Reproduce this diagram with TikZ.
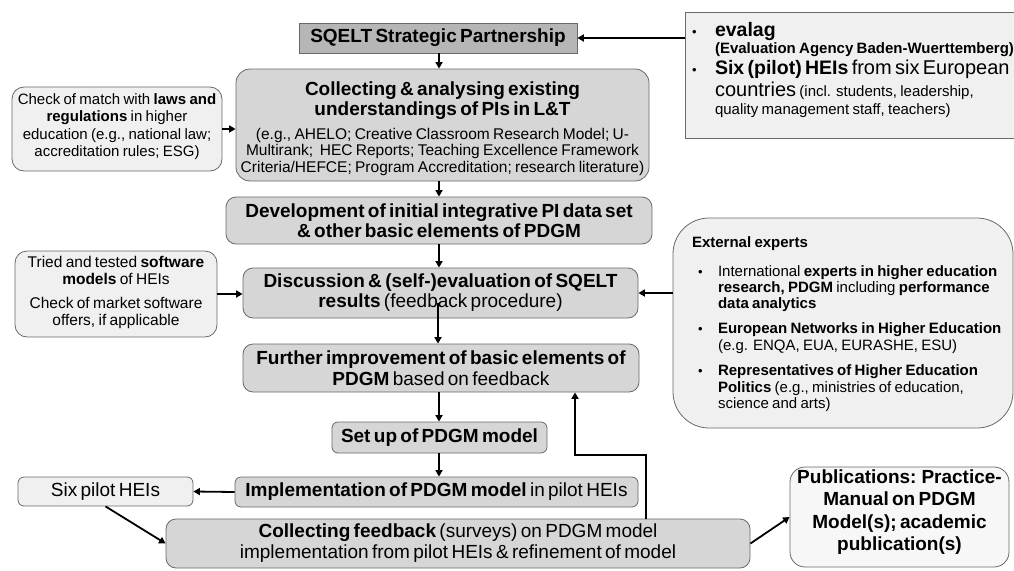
\documentclass[tikz,border=0pt]{standalone}
\usepackage{fontspec}
\setmainfont{Liberation Sans}
\usetikzlibrary{arrows.meta,calc}

\definecolor{fillmain}{RGB}{214,214,214}
\definecolor{filldark}{RGB}{182,182,182}
\definecolor{filllight}{RGB}{240,240,240}
\definecolor{fillpale}{RGB}{247,247,247}
\definecolor{edgegray}{RGB}{105,105,105}

% one centred / left-aligned line of box text: size, distance from previous baseline, content
\newcommand{\bxline}[3]{{\fontsize{#1}{#2}\selectfont\makebox[\linewidth][c]{#3}\par}}
\newcommand{\bxlinel}[3]{{\fontsize{#1}{#2}\selectfont\makebox[\linewidth][l]{#3}\par}}
\newcommand{\bul}{{\fontsize{13}{13}\selectfont\textbullet}}
\newcommand{\largertxt}[1]{{\fontsize{20}{22}\selectfont #1}}

\tikzset{
  boxbase/.style={draw=edgegray, line width=0.8pt, inner sep=0pt, align=center},
  stagebox/.style={boxbase, fill=fillmain, rounded corners=#1},
  stagebox/.default=9pt,
  sidebox/.style={boxbase, fill=filllight, rounded corners=#1},
  sidebox/.default=11pt,
  headbox/.style={boxbase, fill=filldark},
  % first baseline lies #1 above the box centre
  firstbase/.style={text height=0pt, text depth=2*#1},
  flow/.style={line width=1.8pt, -{Triangle[length=6.5pt,width=7pt]}},
}

\begin{document}
\begin{tikzpicture}[x=1pt,y=-1pt]
\useasboundingbox (0,0) rectangle (1014,570);
\clip (0,0) rectangle (1014,570);

% ---- partners and main work stages
\node[headbox, minimum width=278pt, minimum height=30pt, text width=278pt] (sqelt) at (438,38)
  {\bxline{19}{21}{\bfseries SQELT Strategic Partnership}};

\node[boxbase, fill=filllight, minimum width=340pt, minimum height=126pt, text width=340pt, align=left, firstbase=39pt] (evalag) at (855,75)
  {\bxlinel{19.5}{21}{\hspace*{7pt}\makebox[23pt][l]{\bul}\textbf{evalag}}
   \bxlinel{15}{17}{\hspace*{30pt}\textbf{(Evaluation Agency Baden-Wuerttemberg)}}
   \bxlinel{19.5}{21}{\hspace*{7pt}\makebox[23pt][l]{\bul}\textbf{Six (pilot) HEIs}\largertxt{ from six European}}
   \bxlinel{19.5}{22}{\hspace*{30pt}\largertxt{countries} {\fontsize{15}{17}\selectfont (incl. students, leadership,}}
   \bxlinel{15}{18}{\hspace*{30pt}quality management staff, teachers)}};

\node[stagebox=14pt, minimum width=413pt, minimum height=112pt, text width=405pt, firstbase=30pt] (collect) at (442.5,125)
  {\bxline{19}{20}{\bfseries Collecting \& analysing existing}
   \bxline{19}{20}{\bfseries understandings of PIs in L\&T}
   \bxline{15.5}{24}{(e.g., AHELO; Creative Classroom Research Model; U-}
   \bxline{15.5}{16.5}{Multirank;\ \ HEC Reports; Teaching Excellence Framework}
   \bxline{15.5}{16.5}{Criteria/HEFCE; Program Accreditation; research literature)}};

\node[sidebox=12pt, minimum width=210pt, minimum height=84pt, text width=204pt, firstbase=25pt] (laws) at (117,129)
  {\bxline{15}{17.5}{Check of match with \textbf{laws and}}
   \bxline{15}{17.5}{\textbf{regulations} in higher}
   \bxline{15}{17.5}{education (e.g., national law;}
   \bxline{15}{17.5}{accreditation rules; ESG)}};

\node[stagebox=10pt, minimum width=426pt, minimum height=47pt, text width=420pt] (dev) at (439,220.5)
  {\bxline{19}{20}{\bfseries Development of initial integrative PI data set}
   \bxline{19}{20}{\bfseries \& other basic elements of PDGM}};

\node[stagebox=10pt, minimum width=395pt, minimum height=50pt, text width=389pt] (disc) at (440.5,293)
  {\bxline{19}{20}{\textbf{Discussion \& (self-)evaluation of SQELT}}
   \bxline{19}{20}{\textbf{results} (feedback procedure)}};

\node[sidebox=12pt, minimum width=202pt, minimum height=86pt, text width=196pt, firstbase=27pt] (tried) at (116,294)
  {\bxline{15.5}{17}{Tried and tested \textbf{software}}
   \bxline{15.5}{17}{\textbf{models} of HEIs}
   \bxline{15.5}{24}{Check of market software}
   \bxline{15.5}{17}{offers, if applicable}};

\node[sidebox=36pt, minimum width=340pt, minimum height=210pt, text width=340pt, align=left, firstbase=76pt] (ext) at (843,323)
  {\bxlinel{15}{17}{\hspace*{19pt}\textbf{External experts}}
   \bxlinel{15}{29}{\hspace*{25pt}\makebox[20pt][l]{\bul}International \textbf{experts in higher education}}
   \bxlinel{15}{16}{\hspace*{45pt}\textbf{research, PDGM} including \textbf{performance}}
   \bxlinel{15}{16}{\hspace*{45pt}\textbf{data analytics}}
   \bxlinel{15}{25}{\hspace*{25pt}\makebox[20pt][l]{\bul}\textbf{European Networks in Higher Education}}
   \bxlinel{15}{17}{\hspace*{45pt}(e.g. ENQA, EUA, EURASHE, ESU)}
   \bxlinel{15}{25}{\hspace*{25pt}\makebox[20pt][l]{\bul}\textbf{Representatives of Higher Education}}
   \bxlinel{15}{17}{\hspace*{45pt}\textbf{Politics} (e.g., ministries of education,}
   \bxlinel{15}{16}{\hspace*{45pt}science and arts)}};

\node[stagebox=10pt, minimum width=396pt, minimum height=48pt, text width=390pt] (further) at (441,368)
  {\bxline{19}{21}{\textbf{Further improvement of basic elements of}}
   \bxline{19}{21}{\textbf{PDGM} based on feedback}};

\node[stagebox=6pt, minimum width=215pt, minimum height=31pt, text width=211pt] (setup) at (439.5,437.5)
  {\bxline{19}{21}{\bfseries Set up of PDGM model}};

\node[stagebox=6pt, minimum width=403pt, minimum height=30pt, text width=399pt] (impl) at (436.5,492)
  {\bxline{19}{21}{\textbf{Implementation of PDGM model} in pilot HEIs}};

\node[sidebox=6pt, minimum width=175pt, minimum height=29pt, text width=171pt] (six) at (105.5,491.5)
  {\bxline{19}{21}{Six pilot HEIs}};

\node[stagebox=10pt, minimum width=584pt, minimum height=49pt, text width=578pt] (fb) at (458,543.5)
  {\bxline{19}{21}{\textbf{Collecting feedback} (surveys) on PDGM model}
   \bxline{19}{21}{implementation from pilot HEIs \& refinement of model}};

\node[boxbase, fill=fillpale, rounded corners=15pt, minimum width=219pt, minimum height=100pt, text width=215pt, firstbase=34pt] (pub) at (899.5,517)
  {\bxline{19}{22.5}{\bfseries Publications: Practice-}
   \bxline{19}{22.5}{\bfseries Manual on PDGM}
   \bxline{19}{22.5}{\bfseries Model(s); academic}
   \bxline{19}{22.5}{\bfseries publication(s)}};

% ---- connectors
\coordinate (spine) at (439,0);
\coordinate (discout) at (438,303);
\coordinate (loopup) at (646,455);
\coordinate (loopback) at (575,455);

\draw[flow] (evalag.west |- sqelt.east) -- (sqelt.east);
\draw[flow] (spine |- sqelt.south) -- (spine |- collect.north);
\draw[flow] (laws.east) -- (laws.east -| collect.west);
\draw[flow] (spine |- collect.south) -- (spine |- dev.north);
\draw[flow] (spine |- dev.south) -- (spine |- disc.north);
\draw[flow] (tried.east) -- (tried.east -| disc.west);
\draw[flow] (ext.west |- disc.east) -- (disc.east);
\draw[flow] (discout) -- (discout |- further.north);
\draw[flow] (spine |- further.south) -- (spine |- setup.north);
\draw[flow] (spine |- setup.south) -- (spine |- impl.north);
\draw[flow] (impl.west) -- (six.east);
\draw[flow] (six.south) -- (fb.west);
\draw[flow] (loopup |- fb.north) -- (loopup) -- (loopback) -- (loopback |- further.south);
\draw[flow] (fb.east) -- (pub.west);
\end{tikzpicture}
\end{document}
